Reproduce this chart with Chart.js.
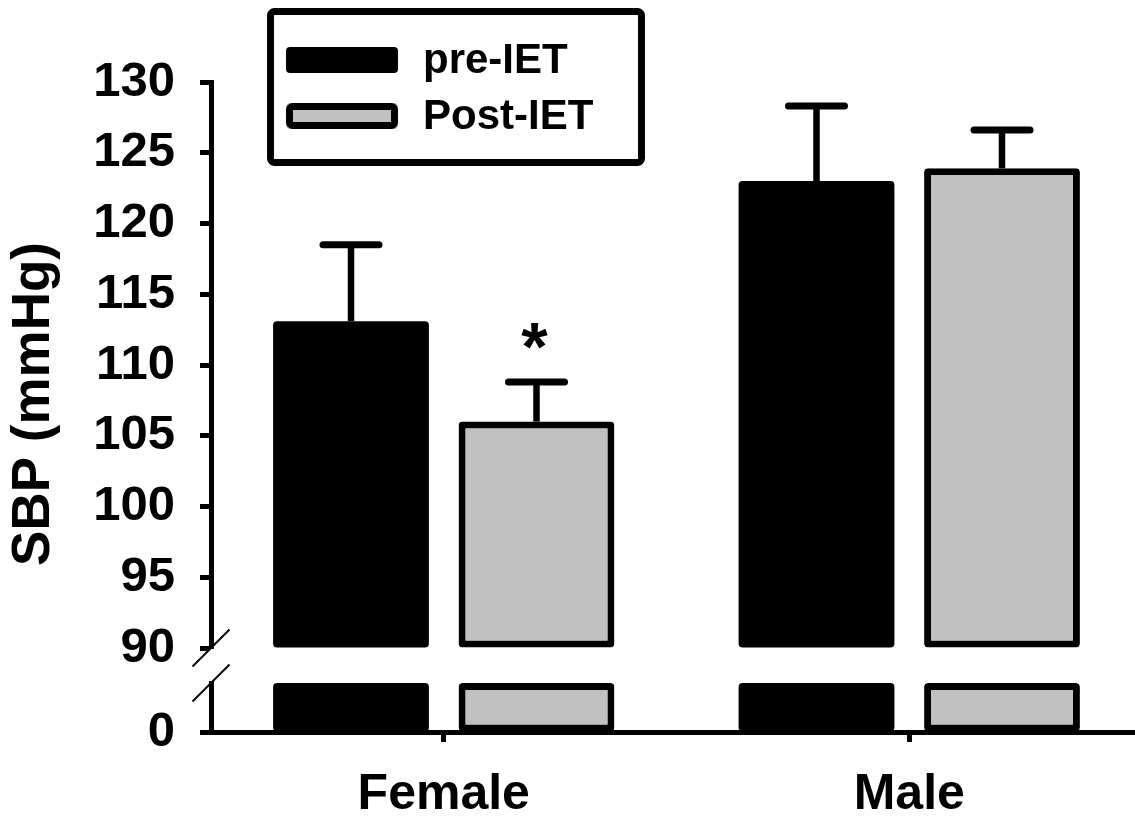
<!DOCTYPE html>
<html><head><meta charset="utf-8">
<script src="https://cdn.jsdelivr.net/npm/chart.js@4.4.1/dist/chart.umd.min.js"></script>
<style>html,body{margin:0;padding:0;background:#fff;overflow:hidden;width:1135px;height:820px;} canvas{display:block;}</style>
</head><body>
<canvas id="c" width="1142" height="820"></canvas>
<script>
// ---- data ----
const categories = ['Female', 'Male'];
const seriesLabels = ['pre-IET', 'Post-IET'];
const preValues = [113.1, 123.0];
const preErrors = [5.4, 5.3];
const postValues = [106.0, 123.9];
const postErrors = [2.8, 2.7];
const postMarks = ['*', ''];
const yTitle = 'SBP (mmHg)';
const upperTicks = [90, 95, 100, 105, 110, 115, 120, 125, 130];
const lowerTicks = [0];
const lowerMax = 10; // top of the short lower axis segment (below the break)

// ---- styles ----
const FONT = "'Liberation Sans', Arial, Helvetica, sans-serif";
const BLACK = '#000000';
const GREY = '#c0c0c0';
const upperMin = upperTicks[0], upperMax = upperTicks[upperTicks.length - 1];

function fixWidth(s) { s.width = 211; }

const decor = {
  id: 'decor',
  afterDatasetsDraw(chart) {
    const ctx = chart.ctx;
    chart.data.datasets.forEach((ds, di) => {
      if (!ds.errors) return;
      const meta = chart.getDatasetMeta(di);
      const ys = chart.scales[ds.yAxisID];
      meta.data.forEach((bar, i) => {
        const v = ds.data[i], e = ds.errors[i];
        const x = bar.x, yb = bar.y, yc = ys.getPixelForValue(v + e);
        ctx.save();
        ctx.strokeStyle = BLACK;
        ctx.lineWidth = 6.5; ctx.lineCap = 'butt';
        ctx.beginPath(); ctx.moveTo(x, yb); ctx.lineTo(x, yc); ctx.stroke();
        ctx.lineWidth = 7; ctx.lineCap = 'round';
        ctx.beginPath(); ctx.moveTo(x - 28, yc); ctx.lineTo(x + 28, yc); ctx.stroke();
        if (ds.marks && ds.marks[i]) {
          ctx.fillStyle = BLACK;
          ctx.font = 'bold 68px ' + FONT;
          ctx.textAlign = 'center'; ctx.textBaseline = 'alphabetic';
          ctx.fillText(ds.marks[i], x - 2, yc - 12);
        }
        ctx.restore();
      });
    });
  },
  afterDraw(chart) {
    const ctx = chart.ctx, ca = chart.chartArea;
    ctx.save();
    // axis break marks
    ctx.strokeStyle = BLACK; ctx.lineWidth = 2; ctx.lineCap = 'butt';
    [chart.scales.yTop.bottom, chart.scales.yBot.top].forEach(y => {
      ctx.beginPath(); ctx.moveTo(ca.left - 18.5, y + 18.5); ctx.lineTo(ca.left + 18.5, y - 18.5); ctx.stroke();
    });
    // y title
    ctx.fillStyle = BLACK;
    ctx.font = 'bold 53px ' + FONT;
    ctx.textAlign = 'center'; ctx.textBaseline = 'middle';
    ctx.save();
    ctx.translate(34, (ca.top + ca.bottom) / 2 - 3);
    ctx.rotate(-Math.PI / 2);
    ctx.fillText(yTitle, 0, 0);
    ctx.restore();
    // legend
    const lx = ca.left + 56, ly = 8;
    ctx.lineWidth = 7; ctx.strokeStyle = BLACK;
    ctx.beginPath(); ctx.roundRect(lx + 3.5, ly + 3.5, 371, 151, 4); ctx.stroke();
    const items = chart.data.datasets.filter(d => d.yAxisID === 'yTop');
    items.forEach((d, k) => {
      const sy = ly + 39 + k * 56;
      const sx = lx + 19;
      ctx.fillStyle = d.backgroundColor;
      ctx.beginPath(); ctx.roundRect(sx, sy, 112, 26, 4); ctx.fill();
      if (d.borderWidth) {
        ctx.lineWidth = d.borderWidth; ctx.strokeStyle = d.borderColor;
        ctx.beginPath(); ctx.roundRect(sx + d.borderWidth / 2, sy + d.borderWidth / 2, 112 - d.borderWidth, 26 - d.borderWidth, 3); ctx.stroke();
      }
      ctx.fillStyle = BLACK;
      ctx.font = 'bold 42px ' + FONT;
      ctx.textAlign = 'left'; ctx.textBaseline = 'middle';
      ctx.fillText(d.label, lx + 156, sy + 14);
    });
    ctx.restore();
  }
};

const barCommon = { barPercentage: 0.84, categoryPercentage: 0.797, borderRadius: 4, borderSkipped: false };

new Chart(document.getElementById('c'), {
  type: 'bar',
  data: {
    labels: categories,
    datasets: [
      Object.assign({ label: seriesLabels[0], data: preValues, errors: preErrors, yAxisID: 'yTop', stack: 'pre', base: upperMin,
        backgroundColor: BLACK, borderWidth: 0 }, barCommon),
      Object.assign({ label: seriesLabels[1], data: postValues, errors: postErrors, marks: postMarks, yAxisID: 'yTop', stack: 'post', base: upperMin,
        backgroundColor: GREY, borderColor: BLACK, borderWidth: 7 }, barCommon),
      Object.assign({ label: seriesLabels[0] + ' (lower)', data: preValues.map(v => Math.min(v, lowerMax)), yAxisID: 'yBot', stack: 'pre',
        backgroundColor: BLACK, borderWidth: 0 }, barCommon),
      Object.assign({ label: seriesLabels[1] + ' (lower)', data: postValues.map(v => Math.min(v, lowerMax)), yAxisID: 'yBot', stack: 'post',
        backgroundColor: GREY, borderColor: BLACK, borderWidth: 7 }, barCommon)
    ]
  },
  options: {
    responsive: false,
    animation: false,
    layout: { padding: { top: 82, left: 0, right: 0, bottom: 0 } },
    plugins: { legend: { display: false }, tooltip: { enabled: false } },
    scales: {
      x: {
        type: 'category',
        offset: true,
        grid: { display: true, drawOnChartArea: false, drawTicks: true, tickLength: 10, tickWidth: 5, tickColor: BLACK, offset: false },
        border: { display: true, color: BLACK, width: 5 },
        ticks: { color: BLACK, font: { family: FONT, size: 50, weight: 'bold' }, padding: 23, maxRotation: 0, autoSkip: false },
        afterFit(s) { s.height = 88; }
      },
      yBot: {
        type: 'linear', position: 'left', stack: 'y', stackWeight: 49, stacked: false,
        min: 0, max: lowerMax,
        afterBuildTicks(s) { s.ticks = lowerTicks.map(v => ({ value: v })); },
        grid: { display: true, drawOnChartArea: false, drawTicks: true, tickLength: 11, tickWidth: 5, tickColor: BLACK },
        border: { display: true, color: BLACK, width: 5 },
        ticks: { color: BLACK, font: { family: FONT, size: 49, weight: 'bold' }, padding: 25, autoSkip: false },
        afterFit: fixWidth
      },
      yGap: {
        type: 'linear', position: 'left', stack: 'y', stackWeight: 35, min: 0, max: 1,
        grid: { display: false }, border: { display: false }, ticks: { display: false },
        afterFit: fixWidth
      },
      yTop: {
        type: 'linear', position: 'left', stack: 'y', stackWeight: 566, stacked: false,
        min: upperMin, max: upperMax,
        afterBuildTicks(s) { s.ticks = upperTicks.map(v => ({ value: v })); },
        grid: { display: true, drawOnChartArea: false, drawTicks: true, tickLength: 11, tickWidth: 5, tickColor: BLACK },
        border: { display: true, color: BLACK, width: 5 },
        ticks: { color: BLACK, font: { family: FONT, size: 49, weight: 'bold' }, padding: 25, autoSkip: false },
        afterFit: fixWidth
      }
    }
  },
  plugins: [decor]
});
</script>
</body></html>
